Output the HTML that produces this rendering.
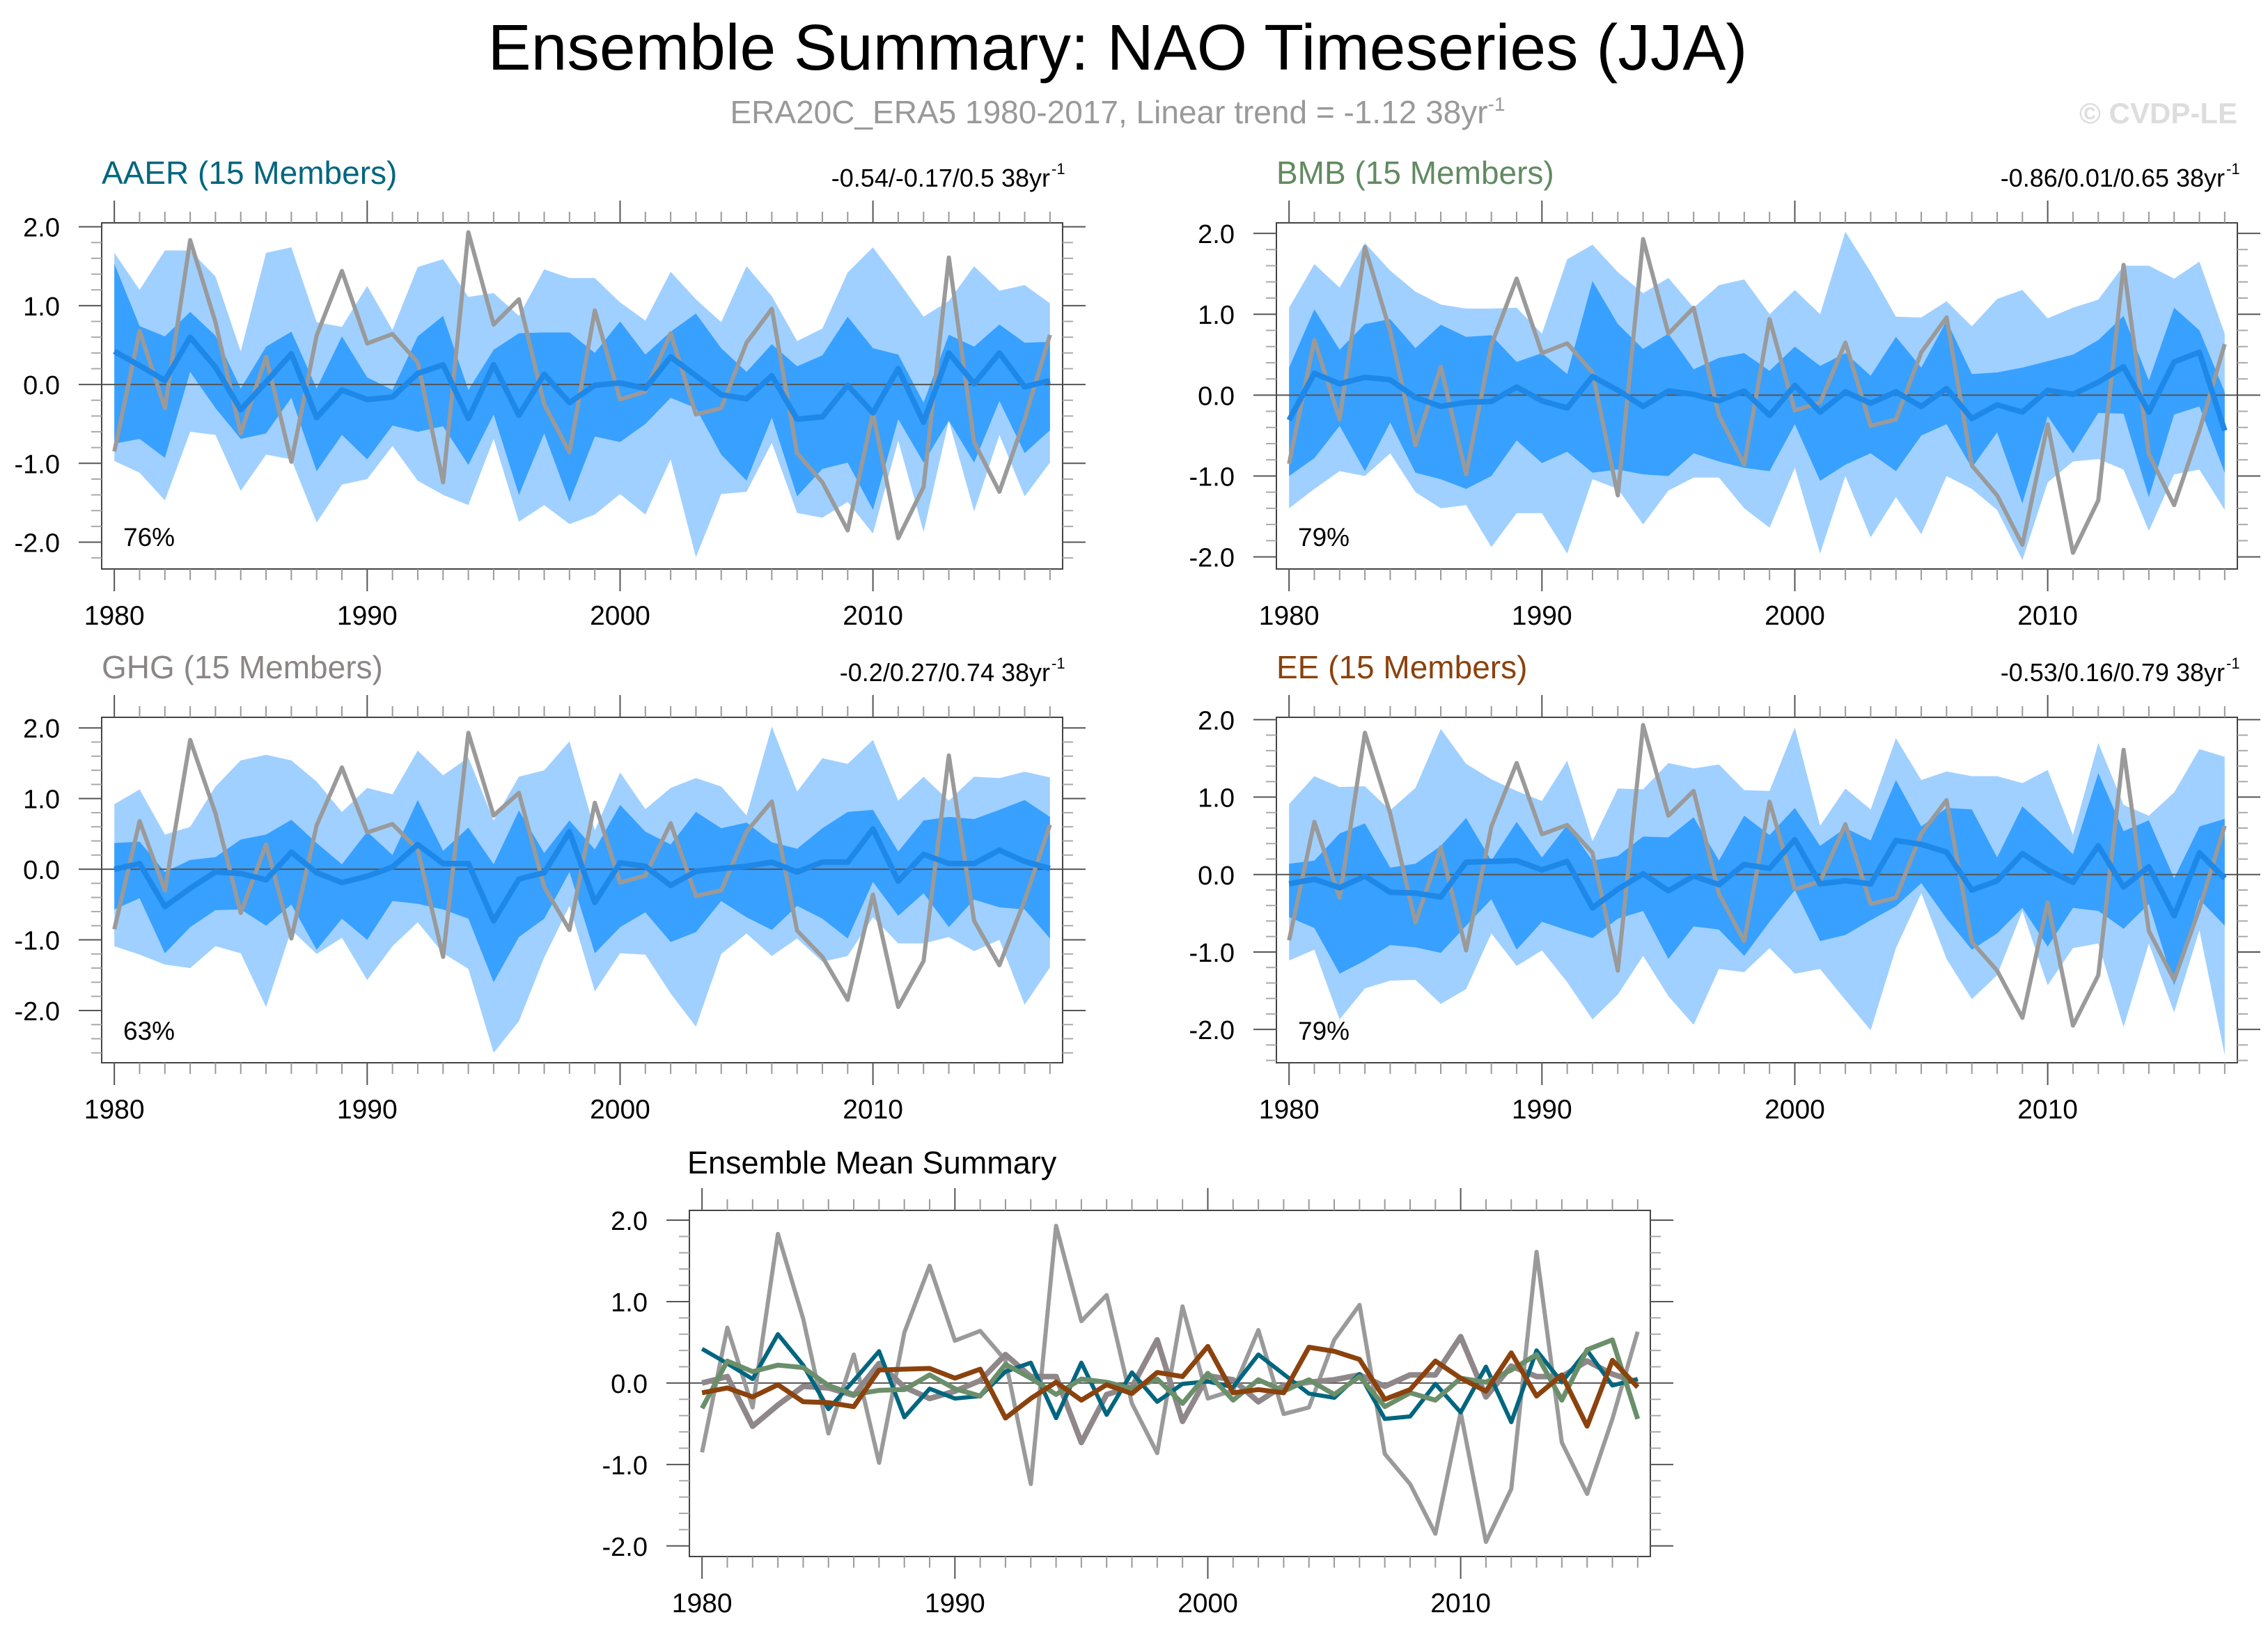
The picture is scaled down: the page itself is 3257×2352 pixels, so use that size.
<!DOCTYPE html>
<html><head><meta charset="utf-8"><style>
html,body{margin:0;padding:0;background:#fff;}
svg{display:block;font-family:"Liberation Sans",sans-serif;}
</style></head><body>
<svg id="c" width="3257" height="2352" viewBox="0 0 3257 2352" xmlns="http://www.w3.org/2000/svg">
<text x="1605" y="100" font-size="93" text-anchor="middle" fill="#000">Ensemble Summary: NAO Timeseries (JJA)</text>
<text x="1605" y="177" font-size="46" text-anchor="middle" fill="#999">ERA20C_ERA5 1980-2017, Linear trend = -1.12 38yr<tspan dy="-18" font-size="28">-1</tspan></text>
<text x="3213" y="177" font-size="42" font-weight="bold" text-anchor="end" fill="#ddd">© CVDP-LE</text>
<text x="987" y="1685" font-size="45" fill="#000">Ensemble Mean Summary</text>
</svg>
<script>
const years = [];
for (let y = 1980; y <= 2017; y++) years.push(y);
const obs = [-0.85,0.68,-0.30,1.83,0.79,-0.62,0.35,-0.98,0.62,1.44,0.52,0.64,0.28,-1.24,1.93,0.76,1.08,-0.25,-0.86,0.94,-0.19,-0.09,0.65,-0.38,-0.30,0.53,0.96,-0.87,-1.24,-1.85,-0.36,-1.95,-1.30,1.61,-0.73,-1.36,-0.44,0.63];
const aaerMean = [0.42,0.24,0.05,0.6,0.22,-0.32,0.03,0.39,-0.42,-0.07,-0.19,-0.16,0.14,0.25,-0.43,0.25,-0.39,0.13,-0.23,-0.01,0.02,-0.05,0.35,0.11,-0.13,-0.18,0.11,-0.44,-0.41,-0.01,-0.36,0.2,-0.48,0.4,0.01,0.4,-0.03,0.05];
const aaerP75 = [1.53,0.74,0.61,0.92,0.62,-0.05,0.48,0.67,-0.05,0.61,0.09,-0.07,0.61,0.87,-0.07,0.44,0.65,0.66,0.66,0.4,0.8,0.38,0.67,0.9,0.46,0.16,0.51,0.23,0.37,0.86,0.46,0.38,-0.23,0.63,0.48,0.76,0.53,0.54];
const aaerP25 = [-0.75,-0.69,-0.93,0.16,-0.3,-0.69,-0.62,-0.17,-1.1,-0.64,-0.95,-0.52,-0.6,-0.53,-1.02,-0.38,-1.4,-0.62,-1.49,-0.66,-0.73,-0.5,-0.17,-0.3,-0.89,-1.22,-0.42,-1.42,-1.07,-0.99,-1.59,-0.44,-0.99,-0.46,-0.99,-0.21,-0.87,-0.58];
const aaerP90 = [1.67,1.2,1.7,1.7,1.37,0.42,1.67,1.74,0.79,0.73,1.25,0.69,1.49,1.59,1.11,1.16,0.87,1.46,1.35,1.35,1.04,0.81,1.43,1.08,0.79,1.5,1.12,0.55,0.71,1.42,1.74,1.31,0.86,1.06,1.5,1.19,1.26,1.03];
const aaerP10 = [-0.97,-1.12,-1.47,-0.6,-0.64,-1.35,-0.89,-0.95,-1.75,-1.27,-1.2,-0.78,-1.22,-1.4,-1.53,-0.69,-1.74,-1.53,-1.77,-1.65,-1.39,-1.65,-0.95,-2.19,-1.39,-1.36,-0.74,-1.63,-1.69,-1.49,-1.89,-0.71,-1.87,-0.46,-1.61,-0.64,-1.42,-0.99];
const bmbMean = [-0.31,0.27,0.14,0.22,0.19,-0.03,-0.14,-0.09,-0.08,0.1,-0.07,-0.16,0.23,0.06,-0.14,0.05,0.01,-0.07,0.05,-0.25,0.12,-0.21,0.04,-0.1,0.04,-0.14,0.08,-0.29,-0.12,-0.21,0.06,0.01,0.16,0.35,-0.21,0.41,0.53,-0.44];
const bmbP75 = [0.34,1.06,0.56,0.88,0.94,0.58,0.87,0.72,0.74,0.41,0.52,0.26,1.41,0.88,0.57,0.76,0.32,0.46,0.52,0.3,0.6,0.36,0.52,0.24,0.72,0.34,0.92,0.26,0.28,0.34,0.42,0.5,0.68,0.98,0.18,1.08,0.8,0.04];
const bmbP25 = [-1.0,-0.78,-0.38,-0.94,-0.34,-0.96,-1.04,-1.16,-1.0,-0.56,-0.84,-0.7,-0.96,-0.92,-0.98,-1.0,-0.72,-0.82,-0.9,-0.94,-0.36,-1.06,-0.86,-0.72,-0.94,-0.5,-0.36,-0.9,-0.46,-1.34,-0.26,-0.72,-0.22,-0.23,-1.26,-0.24,-0.14,-0.96];
const bmbP90 = [1.08,1.62,1.33,1.88,1.54,1.28,1.12,1.07,1.07,1.08,0.76,1.68,1.86,1.52,1.26,1.45,1.08,1.36,1.43,1.0,1.3,1.0,2.02,1.52,0.97,0.96,1.16,0.85,1.19,1.3,0.95,1.08,1.18,1.6,1.6,1.44,1.65,0.76];
const bmbP10 = [-1.4,-1.16,-0.94,-1.0,-0.72,-1.2,-1.4,-1.36,-1.88,-1.46,-1.46,-1.96,-1.04,-1.16,-1.6,-1.18,-1.02,-1.02,-1.4,-1.64,-0.9,-1.96,-1.0,-1.76,-1.26,-1.72,-1.0,-1.16,-1.42,-2.04,-1.08,-0.82,-0.79,-0.92,-1.68,-0.98,-0.92,-1.42];
const ghgMean = [0.0,0.08,-0.53,-0.27,-0.04,-0.06,-0.15,0.24,-0.05,-0.19,-0.1,0.03,0.35,0.08,0.08,-0.73,-0.14,-0.05,0.53,-0.47,0.09,0.04,-0.23,-0.03,0.01,0.04,0.1,-0.04,0.1,0.1,0.57,-0.17,0.21,0.08,0.08,0.27,0.11,0.01];
const ghgP75 = [0.37,0.39,-0.04,0.13,0.17,0.42,0.49,0.7,0.37,0.07,0.53,0.2,0.98,0.26,0.59,0.07,0.83,0.23,0.69,0.28,0.91,0.53,0.35,0.81,0.58,0.66,0.38,0.29,0.58,0.81,0.84,0.25,0.69,0.74,0.71,0.84,0.98,0.74];
const ghgP25 = [-0.57,-0.41,-1.19,-0.82,-0.58,-0.57,-0.8,-0.5,-1.14,-0.7,-1.0,-0.45,-0.49,-0.57,-0.7,-1.6,-0.96,-0.7,-0.04,-1.19,-0.82,-0.61,-1.03,-0.89,-0.45,-0.68,-0.86,-0.52,-0.7,-0.98,-0.18,-0.66,-0.34,-0.82,-0.43,-0.54,-0.57,-0.98];
const ghgP90 = [0.92,1.13,0.49,0.6,1.17,1.54,1.62,1.54,1.24,0.81,1.15,1.06,1.68,1.33,1.58,0.69,1.31,1.4,1.81,0.55,1.37,0.85,1.15,1.29,1.17,0.76,2.02,1.1,1.57,1.49,1.83,0.97,1.31,0.97,1.31,1.29,1.38,1.3];
const ghgP10 = [-1.09,-1.21,-1.35,-1.4,-1.09,-1.19,-1.95,-0.86,-1.2,-0.97,-1.57,-1.09,-0.75,-1.19,-1.41,-2.6,-2.15,-1.25,-0.52,-1.73,-1.19,-1.21,-1.76,-2.23,-1.2,-0.91,-1.23,-0.98,-1.31,-1.23,-0.68,-1.05,-1.05,-0.96,-1.16,-1.0,-1.92,-1.39];
const eeMean = [-0.12,-0.06,-0.17,-0.02,-0.23,-0.24,-0.29,0.16,0.17,0.18,0.06,0.17,-0.43,-0.19,0.01,-0.21,-0.02,-0.13,0.13,0.08,0.45,-0.12,-0.08,-0.12,0.44,0.39,0.29,-0.2,-0.08,0.27,0.06,-0.1,0.37,-0.16,0.1,-0.53,0.28,-0.05];
const eeP75 = [0.14,0.18,0.53,0.66,0.09,0.14,0.37,0.73,0.18,0.68,0.22,0.64,0.18,0.24,0.49,0.48,0.74,0.18,0.76,0.51,0.86,0.37,0.6,0.44,1.22,0.62,0.86,0.84,0.22,0.88,0.58,0.26,1.31,0.56,0.7,-0.05,0.62,0.72];
const eeP25 = [-0.55,-0.69,-1.28,-1.11,-0.91,-0.94,-1.01,-0.66,-0.32,-0.97,-0.61,-0.72,-0.82,-0.57,-0.47,-1.09,-0.67,-0.71,-1.05,-0.61,-0.2,-0.86,-0.78,-0.59,-0.41,-0.11,-0.57,-0.97,-0.76,-0.43,-0.93,-0.43,-0.47,-0.7,-0.38,-1.43,-0.32,-0.66];
const eeP90 = [0.91,1.27,1.13,1.14,0.83,1.12,1.88,1.43,1.23,1.08,0.95,1.47,0.43,1.11,1.1,1.44,1.37,1.42,1.09,1.08,1.9,0.63,1.11,0.84,1.76,1.22,1.33,1.27,1.27,1.18,1.35,0.51,1.7,0.9,0.76,1.06,1.62,1.52];
const eeP10 = [-1.11,-0.97,-1.87,-1.47,-1.37,-1.36,-1.67,-1.48,-0.76,-1.18,-0.98,-1.39,-1.87,-1.55,-1.05,-1.57,-1.94,-1.22,-1.26,-0.95,-1.28,-1.22,-1.62,-2.01,-0.95,-0.24,-1.09,-1.61,-1.3,-0.47,-1.43,-0.95,-0.89,-1.97,-0.89,-1.78,-0.72,-2.33];
const yTickLabels = ["-2.0","-1.0","0.0","1.0","2.0"];
const xTickLabels = ["1980","1990","2000","2010"];

const NS = "http://www.w3.org/2000/svg";
const svg = document.getElementById('c');
function mk(tag, attrs, parent) {
  const e = document.createElementNS(NS, tag);
  for (const k in attrs) e.setAttribute(k, attrs[k]);
  (parent || svg).appendChild(e);
  return e;
}

const panels = [
  {id:'aaer', name:'AAER (15 Members)', color:'#00667f', stat:'-0.54/-0.17/0.5 38yr', pct:'76%', x:146, y:320, w:1380, h:497, ymin:-2.34, ymax:2.05, mean:aaerMean, p10:aaerP10, p25:aaerP25, p75:aaerP75, p90:aaerP90},
  {id:'bmb', name:'BMB (15 Members)', color:'#628a62', stat:'-0.86/0.01/0.65 38yr', pct:'79%', x:1833, y:320, w:1380, h:497, ymin:-2.15, ymax:2.13, mean:bmbMean, p10:bmbP10, p25:bmbP25, p75:bmbP75, p90:bmbP90},
  {id:'ghg', name:'GHG (15 Members)', color:'#8c8585', stat:'-0.2/0.27/0.74 38yr', pct:'63%', x:146, y:1030, w:1380, h:496, ymin:-2.74, ymax:2.15, mean:ghgMean, p10:ghgP10, p25:ghgP25, p75:ghgP75, p90:ghgP90},
  {id:'ee', name:'EE (15 Members)', color:'#8b420d', stat:'-0.53/0.16/0.79 38yr', pct:'79%', x:1833, y:1030, w:1380, h:496, ymin:-2.43, ymax:2.03, mean:eeMean, p10:eeP10, p25:eeP25, p75:eeP75, p90:eeP90}
];

function axes(p) {
  const xs = v => p.x + (v - 1979.5) / 38 * p.w;
  const ys = v => p.y + (p.ymax - v) / (p.ymax - p.ymin) * p.h;
  return {xs, ys};
}

function drawFrame(p, g, xs, ys) {
  for (let yr = 1980; yr <= 2017; yr++) {
    const major = (yr % 10 === 0);
    const L = major ? 32 : 16;
    const c = major ? '#555' : '#999';
    const t1 = mk('line', {x1:xs(yr), x2:xs(yr), y1:p.y, y2:p.y-L, stroke:c, 'stroke-width':2}, g);
    
    
    const t2 = mk('line', {x1:xs(yr), x2:xs(yr), y1:p.y+p.h, y2:p.y+p.h+L, stroke:c, 'stroke-width':2}, g);
    
    
  }
  for (let i = Math.ceil(p.ymin * 5); i <= Math.floor(p.ymax * 5); i++) {
    const v = i / 5;
    const major = (i % 5 === 0);
    const L = major ? 33 : 15;
    const c = major ? '#555' : '#aaa';
    const t1 = mk('line', {x1:p.x, x2:p.x-L, y1:ys(v), y2:ys(v), stroke:c, 'stroke-width':2}, g);
    
    
    const t2 = mk('line', {x1:p.x+p.w, x2:p.x+p.w+L, y1:ys(v), y2:ys(v), stroke:c, 'stroke-width':2}, g);
    
    
  }
  yTickLabels.forEach(lab => {
    const v = parseFloat(lab);
    const t = mk('text', {x:p.x-60, y:ys(v)+14, 'font-size':38, 'text-anchor':'end', fill:'#000'}, g);
    t.textContent = lab;
    
    
  });
  xTickLabels.forEach(lab => {
    const v = parseFloat(lab);
    const t = mk('text', {x:xs(v), y:p.y+p.h+80, 'font-size':39, 'text-anchor':'middle', fill:'#000'}, g);
    t.textContent = lab;
    
    
  });
}

function linePath(arr, xs, ys) {
  return arr.map((v, i) => (i ? 'L' : 'M') + xs(years[i]).toFixed(1) + ',' + ys(v).toFixed(1)).join(' ');
}
function bandPath(lo, hi, xs, ys) {
  let d = hi.map((v, i) => (i ? 'L' : 'M') + xs(years[i]).toFixed(1) + ',' + ys(v).toFixed(1)).join(' ');
  for (let i = lo.length - 1; i >= 0; i--) d += ' L' + xs(years[i]).toFixed(1) + ',' + ys(lo[i]).toFixed(1);
  return d + ' Z';
}

panels.forEach(p => {
  const g = mk('g', {});
  
  
  const {xs, ys} = axes(p);
  const bg = mk('rect', {x:p.x, y:p.y, width:p.w, height:p.h, fill:'#fff'}, g);
  
  
  const b1 = mk('path', {d:bandPath(p.p10, p.p90, xs, ys), fill:'#a0d0ff'}, g);
  
  
  const b2 = mk('path', {d:bandPath(p.p25, p.p75, xs, ys), fill:'#38a0ff'}, g);
  
  
  const z = mk('line', {x1:p.x, x2:p.x+p.w, y1:ys(0), y2:ys(0), stroke:'#555', 'stroke-width':2}, g);
  
  
  const o = mk('path', {d:linePath(obs, xs, ys), fill:'none', stroke:'#9a9a9a', 'stroke-width':6, 'stroke-linejoin':'round'}, g);
  
  
  const m = mk('path', {d:linePath(p.mean, xs, ys), fill:'none', stroke:'#1e88e8', 'stroke-width':8, 'stroke-linejoin':'round'}, g);
  
  
  const fr = mk('rect', {x:p.x, y:p.y, width:p.w, height:p.h, fill:'none', stroke:'#444', 'stroke-width':2}, g);
  
  
  drawFrame(p, g, xs, ys);
  const t = mk('text', {x:p.x, y:p.y-56, 'font-size':46, fill:p.color}, g);
  t.textContent = p.name;
  
  
  const s = mk('text', {x:p.x+p.w-18, y:p.y-52, 'font-size':36, 'text-anchor':'end', fill:'#000'}, g);
  s.textContent = p.stat;
  
  
  const sp = mk('text', {x:p.x+p.w-16, y:p.y-70, 'font-size':22, fill:'#000'}, g);
  sp.textContent = '-1';
  
  
  const pc = mk('text', {x:p.x+31, y:p.y+p.h-33, 'font-size':37, fill:'#000'}, g);
  pc.textContent = p.pct;
  
  
});

const mp = {x:990, y:1738, w:1380, h:497, ymin:-2.13, ymax:2.12};
const mg = mk('g', {});


const ma = axes(mp);
const mz = mk('line', {x1:mp.x, x2:mp.x+mp.w, y1:ma.ys(0), y2:ma.ys(0), stroke:'#555', 'stroke-width':2}, mg);


const series = [
  {n:'observed-line', arr:obs, c:'#9a9a9a', w:6},
  {n:'ghg-mean-line', arr:ghgMean, c:'#8f8789', w:8},
  {n:'aaer-mean-line', arr:aaerMean, c:'#00667f', w:6},
  {n:'bmb-mean-line', arr:bmbMean, c:'#6a8f6a', w:7},
  {n:'ee-mean-line', arr:eeMean, c:'#8b420d', w:7}
];
series.forEach(s => {
  const l = mk('path', {d:linePath(s.arr, ma.xs, ma.ys), fill:'none', stroke:s.c, 'stroke-width':s.w, 'stroke-linejoin':'round'}, mg);
  
  
});
const mfr = mk('rect', {x:mp.x, y:mp.y, width:mp.w, height:mp.h, fill:'none', stroke:'#444', 'stroke-width':2}, mg);


drawFrame(mp, mg, ma.xs, ma.ys);
</script>
</body></html>
